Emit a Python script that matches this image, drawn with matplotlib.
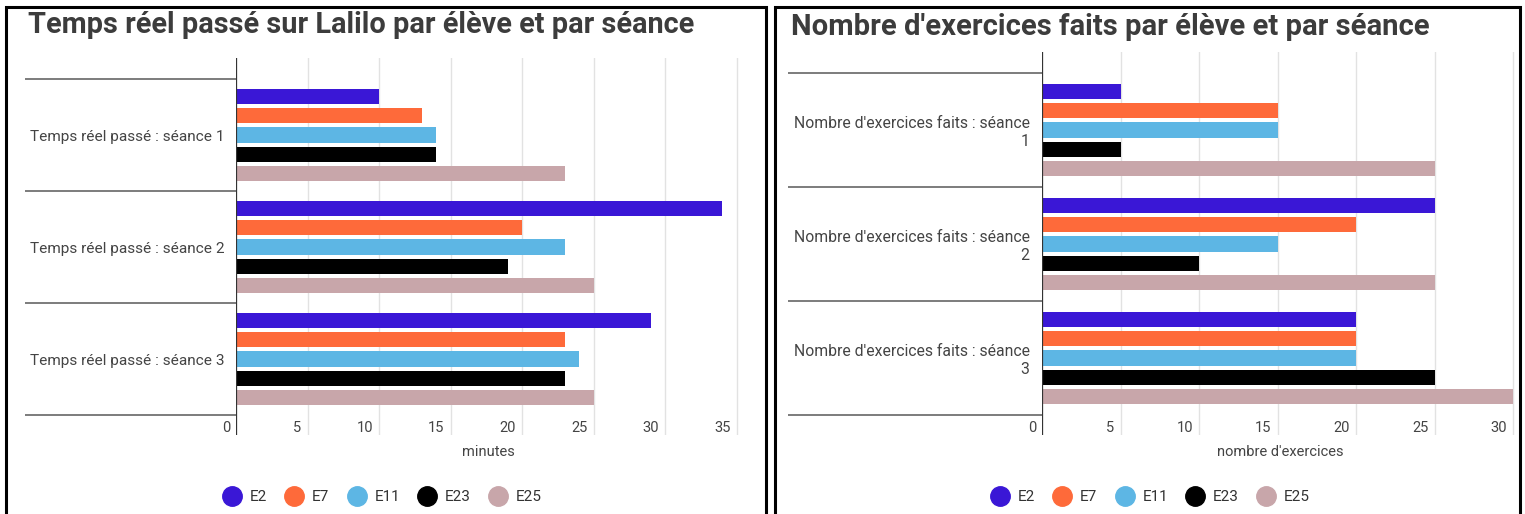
import matplotlib
matplotlib.use("Agg")
import matplotlib.pyplot as plt
import matplotlib.transforms as mtransforms
from matplotlib.lines import Line2D
from matplotlib.patches import Rectangle

plt.rcParams['font.family'] = ['Roboto', 'DejaVu Sans']

# --- Data ---
students = ['E2', 'E7', 'E11', 'E23', 'E25']
colors = ['#3a17d6', '#fe6a3a', '#5db6e4', '#000000', '#c8a6aa']

temps_labels = ['Temps réel passé : séance 1',
                'Temps réel passé : séance 2',
                'Temps réel passé : séance 3']
# minutes, one row per student, one column per séance
temps_minutes = [
    [10, 34, 29],   # E2
    [13, 20, 23],   # E7
    [14, 23, 24],   # E11
    [14, 19, 23],   # E23
    [23, 25, 25],   # E25
]
temps_ticks = [0, 5, 10, 15, 20, 25, 30, 35]

exos_labels = ["Nombre d'exercices faits : séance\n1",
               "Nombre d'exercices faits : séance\n2",
               "Nombre d'exercices faits : séance\n3"]
exos_counts = [
    [5, 25, 20],    # E2
    [15, 20, 20],   # E7
    [15, 15, 20],   # E11
    [5, 10, 25],    # E23
    [25, 25, 30],   # E25
]
exos_ticks = [0, 5, 10, 15, 20, 25, 30]

# --- Figure ---
W, H = 1525, 514
fig = plt.figure(figsize=(W / 100, H / 100), dpi=100)
TXT = '#444444'


def px_box(x0, y0, x1, y1):
    # pixel box (top-left origin) -> figure fraction rect
    return [x0 / W, (H - y1) / H, (x1 - x0) / W, (y1 - y0) / H]


def draw_panel(ax, labels, values, ticks, xmax, xlabel, sep_left_px, lab_size, lab_pad):
    bar_h = 0.134
    step = 0.17
    n = len(values)
    for i, (vals, col) in enumerate(zip(values, colors)):
        ys = [k + 0.5 + (i - (n - 1) / 2) * step for k in range(len(labels))]
        ax.barh(ys, vals, height=bar_h, color=col, zorder=3)

    bbox = ax.get_position()
    ax_h_px = bbox.height * H
    ax_w_px = bbox.width * W
    top_pad = 21 / ((ax_h_px - 41) / 3)
    bot_pad = 20 / ((ax_h_px - 41) / 3)
    ax.set_ylim(len(labels) + bot_pad, -top_pad)
    ax.set_xlim(0, xmax)

    for s in ax.spines.values():
        s.set_visible(False)

    ax.set_xticks(ticks)
    ax.set_xticklabels([])
    ax.tick_params(axis='x', length=0)
    ax.grid(axis='x', color='#e2e2e2', lw=1, zorder=0)
    ax.axvline(0, color='#333333', lw=1.6, zorder=4)

    ax.set_yticks([k + 0.5 for k in range(len(labels))])
    ax.set_yticklabels(labels, fontsize=lab_size, color=TXT)
    ax.tick_params(axis='y', length=0, pad=lab_pad)

    # category separators
    frac = (sep_left_px - bbox.x0 * W) / ax_w_px
    ax.hlines(range(len(labels) + 1), frac, 0, transform=ax.get_yaxis_transform(),
              color='#666666', lw=1.2, clip_on=False)

    # tick labels sit inside, left of the grid lines
    trans = mtransforms.offset_copy(ax.get_xaxis_transform(), fig=fig,
                                    x=-6, y=7, units='dots')
    for t in ticks:
        ax.text(t, 0, str(t), transform=trans, ha='right', va='center',
                fontsize=10.5, color=TXT)

    ax.text(0.5, -17 / ax_h_px, xlabel, transform=ax.transAxes, ha='center',
            va='center', fontsize=10.5, color=TXT)


ax1 = fig.add_axes(px_box(236, 58, 741, 435))
draw_panel(ax1, temps_labels, temps_minutes, temps_ticks, 35.3, 'minutes', 25, 11.1, 8)

ax2 = fig.add_axes(px_box(1042, 52, 1518, 435))
draw_panel(ax2, exos_labels, exos_counts, exos_ticks, 30.3, "nombre d'exercices", 788, 11.3, 9)

# titles
fig.text(28 / W, 1 - 25 / H, 'Temps réel passé sur Lalilo par élève et par séance',
         fontsize=20.8, fontweight='bold', color='#3c3c3c', va='center', ha='left')
fig.text(791 / W, 1 - 27 / H, "Nombre d'exercices faits par élève et par séance",
         fontsize=21.1, fontweight='bold', color='#3c3c3c', va='center', ha='left')

# legends
handles = [Line2D([], [], marker='o', ls='', markersize=14, color=c) for c in colors]
for cx in (382, 1150):
    fig.legend(handles, students, loc='center', bbox_to_anchor=(cx / W, 1 - 497 / H),
               ncol=5, frameon=False, fontsize=11, handletextpad=0.5,
               columnspacing=1.15, labelcolor='#333333', handlelength=1.3)

# panel borders
for x0, x1 in ((6, 766), (775, 1520)):
    fig.add_artist(Rectangle((x0 / W, -0.1), (x1 - x0) / W, 1.1 - 7 / H,
                             transform=fig.transFigure, fill=False,
                             ec='black', lw=2.2))

fig.savefig('out.png', dpi=100)
